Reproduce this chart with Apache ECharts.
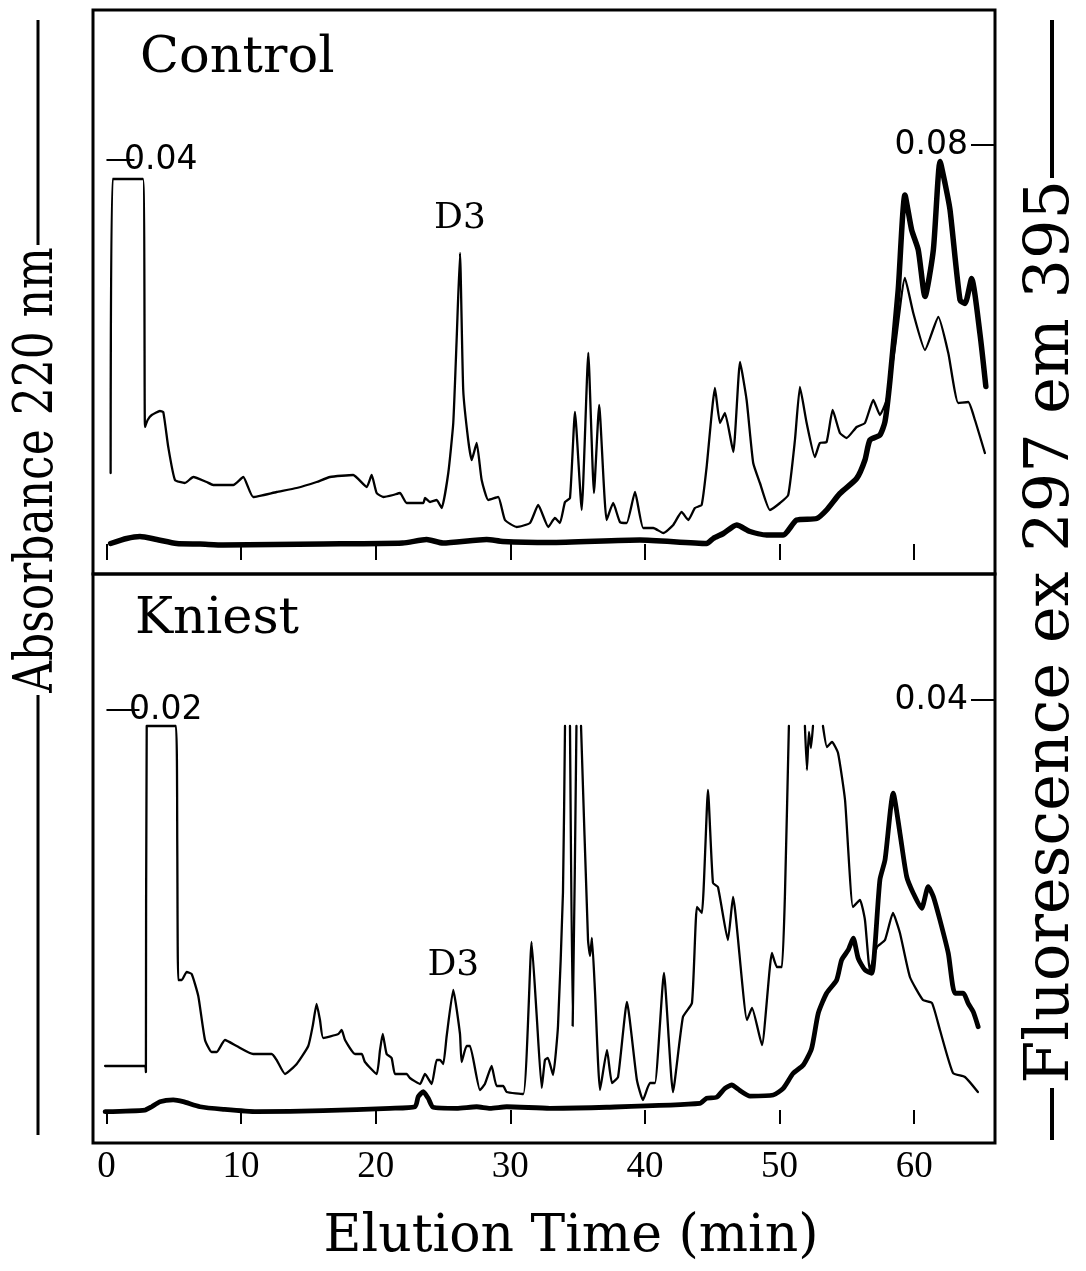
<!DOCTYPE html>
<html>
<head>
<meta charset="utf-8">
<title>Elution profiles: Control and Kniest</title>
<script src="https://cdn.jsdelivr.net/npm/echarts@6/dist/echarts.min.js"></script>
<style>
  html, body { margin: 0; padding: 0; background: #fff; }
  #chart { width: 1086px; height: 1271px; }
</style>
</head>
<body>
<div id="chart"></div>
<script>
// Elution time in minutes, detector readings in mAU.
// '-' marks stretches where the absorbance recorder went off scale.

const timeTicks = [0, 10, 20, 30, 40, 50, 60];

// Control: absorbance at 220 nm (thin trace)
const controlAbs = [
  [0.31, 8.7], [0.46, 38.1], [2.71, 38.1], [2.86, 13.3], [3.06, 14.0], [3.36, 14.5], [3.97, 14.9],
  [4.22, 14.8], [4.59, 11.3], [5.09, 8.0], [5.83, 7.7], [6.45, 8.3], [7.44, 7.8], [7.93, 7.5],
  [9.42, 7.5], [10.16, 8.3], [10.9, 6.3], [12.64, 6.8], [14.13, 7.2], [15.61, 7.8], [16.6, 8.3],
  [18.33, 8.5], [19.33, 7.3], [19.7, 8.5], [20.07, 6.7], [20.56, 6.3], [21.3, 6.5], [21.8, 6.7],
  [22.3, 5.7], [23.53, 5.7], [23.66, 6.2], [24.03, 5.8], [24.53, 6.0], [24.9, 5.2], [25.39, 8.7],
  [25.76, 13.7], [26.01, 22.0], [26.26, 30.7], [26.5, 17.0], [26.87, 12.0], [27.13, 10.0],
  [27.5, 11.7], [27.87, 8.0], [28.36, 6.0], [29.1, 6.3], [29.6, 4.0], [30.47, 3.3], [31.46, 3.7],
  [32.07, 5.5], [32.82, 3.3], [33.31, 4.2], [33.68, 3.7], [34.06, 5.8], [34.43, 6.2], [34.8, 14.8],
  [35.3, 5.0], [35.79, 20.7], [36.21, 6.7], [36.6, 15.5], [37.15, 4.0], [37.64, 5.7], [38.14, 3.8],
  [38.64, 3.7], [39.26, 6.8], [39.87, 3.2], [40.62, 3.2], [41.36, 2.7], [42.1, 3.5], [42.72, 4.8],
  [43.22, 4.0], [43.71, 5.2], [44.21, 5.5], [44.58, 9.3], [45.2, 17.2], [45.57, 13.7], [45.94, 14.7],
  [46.56, 10.8], [47.06, 19.8], [47.55, 16.0], [48.04, 9.7], [48.54, 7.7], [49.28, 5.0], [50.03, 5.7],
  [50.64, 6.5], [51.14, 12.0], [51.51, 17.3], [52.01, 13.7], [52.62, 10.3], [52.99, 11.7],
  [53.49, 11.8], [53.94, 15.0], [54.48, 12.7], [54.98, 12.2], [55.72, 13.3], [56.34, 13.7],
  [56.96, 16.0], [57.45, 14.5], [57.95, 16.0], [58.57, 21.3], [59.31, 28.2], [59.93, 24.7],
  [60.8, 21.0], [61.79, 24.3], [62.53, 20.7], [63.27, 15.7], [64.01, 15.8], [64.51, 14.0], [65.25, 10.7]
];

// Control: fluorescence ex 297 / em 395 (thick trace)
const controlFlu = [
  [0.31, 0.3], [1.5, 1.3], [2.49, 1.7], [3.73, 1.1], [5.22, 0.3], [6.95, 0.2], [8.68, 0.0],
  [16.1, 0.2], [22.0, 0.4], [23.78, 1.1], [25.0, 0.4], [28.24, 1.1], [29.45, 0.7], [32.94, 0.5],
  [39.62, 1.0], [44.58, 0.3], [45.07, 1.3], [45.82, 2.3], [46.81, 4.0], [47.8, 2.7], [49.03, 2.0],
  [50.27, 2.0], [51.27, 5.0], [52.76, 5.3], [53.49, 7.0], [54.48, 10.3], [55.72, 13.3], [56.34, 17.0],
  [56.71, 21.0], [57.45, 22.0], [57.83, 24.7], [58.2, 33.0], [58.81, 51.0], [59.31, 70.0],
  [59.81, 63.0], [60.3, 59.0], [60.8, 49.7], [61.42, 59.0], [61.92, 76.7], [62.29, 72.3],
  [62.66, 67.0], [63.4, 49.0], [63.77, 48.3], [64.26, 53.3], [64.88, 42.3], [65.32, 31.7]
];

// Kniest: absorbance at 220 nm (thin trace)
const kniestAbs = [
  [-0.1, 2.2], [2.86, 2.2], [2.93, 1.9], [2.99, 19.2], [5.16, 19.2], [5.26, 13.2], [5.33, 6.5],
  [5.59, 6.5], [5.96, 6.9], [6.33, 6.8], [6.82, 5.7], [7.32, 3.5], [7.81, 2.9], [8.19, 2.9],
  [8.8, 3.5], [9.67, 3.2], [10.9, 2.8], [12.27, 2.8], [12.64, 2.5], [13.26, 1.8], [14.13, 2.3],
  [14.99, 3.2], [15.32, 4.2], [15.61, 5.3], [15.86, 4.5], [16.1, 3.6], [17.22, 3.8], [17.47, 4.0],
  [17.72, 3.5], [18.46, 2.8], [18.96, 2.8], [19.2, 2.4], [20.07, 1.8], [20.32, 3.0], [20.52, 3.8],
  [20.81, 2.8], [21.18, 2.6], [21.43, 1.8], [21.93, 1.8], [22.3, 1.8], [22.54, 1.6], [23.29, 1.3],
  [23.66, 1.8], [24.16, 1.3], [24.53, 2.5], [24.77, 2.5], [25.02, 2.3], [25.27, 3.7], [25.76, 6.0],
  [26.26, 3.8], [26.38, 2.4], [26.75, 3.2], [27.0, 3.2], [27.74, 1.0], [28.11, 1.3], [28.61, 2.2],
  [28.98, 1.2], [29.47, 1.2], [29.73, 0.9], [30.96, 0.8], [31.58, 8.4], [31.95, 4.8], [32.33, 1.1],
  [32.57, 2.5], [32.79, 2.6], [33.17, 1.75], [33.54, 4.2], [33.91, 10.9], [34.06, 19.2], [34.2, '-'],
  [34.43, 19.2], [34.63, 4.2], [34.91, 19.2], [35.1, '-'], [35.25, 19.2], [35.77, 8.5], [35.92, 7.7],
  [36.06, 8.6], [36.29, 5.9], [36.66, 1.0], [37.18, 3.0], [37.55, 1.35], [38.0, 1.65], [38.66, 5.4],
  [39.4, 1.5], [39.85, 0.5], [40.37, 1.35], [40.74, 1.35], [41.41, 6.85], [42.08, 0.9], [42.82, 4.65],
  [43.49, 5.35], [43.86, 10.15], [44.23, 9.85], [44.68, 16.0], [45.05, 11.35], [45.42, 11.15],
  [46.16, 8.5], [46.54, 10.65], [47.58, 4.5], [47.95, 5.1], [48.69, 3.25], [49.43, 7.85], [49.8, 7.15],
  [50.17, 7.15], [50.4, 10.85], [50.69, 19.2], [51.2, '-'], [51.88, 19.2], [52.03, 17.0], [52.18, 18.9],
  [52.33, 18.1], [52.48, 19.2], [52.8, '-'], [53.22, 19.2], [53.52, 18.15], [53.89, 18.4],
  [54.34, 17.85], [54.86, 15.5], [55.45, 10.15], [55.97, 10.5], [56.34, 9.5], [56.71, 7.0],
  [57.23, 8.15], [57.83, 8.5], [58.42, 9.85], [58.94, 8.85], [59.68, 6.65], [60.65, 5.5],
  [61.32, 5.35], [61.91, 4.0], [62.88, 1.85], [63.77, 1.65], [64.73, 0.9]
];

// Kniest: fluorescence ex 297 / em 395 (thick trace)
const kniestFlu = [
  [-0.1, 0.03], [2.86, 0.19], [3.36, 0.51], [3.97, 1.0], [4.96, 1.17], [5.7, 1.0], [6.95, 0.51],
  [8.68, 0.26], [11.16, 0.03], [16.1, 0.13], [21.06, 0.36], [22.92, 0.51], [23.16, 1.49],
  [23.53, 1.97], [23.9, 1.33], [24.27, 0.46], [26.01, 0.36], [27.5, 0.51], [28.49, 0.36],
  [29.73, 0.51], [32.94, 0.36], [37.15, 0.46], [44.08, 0.84], [44.58, 1.33], [45.32, 1.43],
  [45.94, 2.3], [46.44, 2.62], [47.06, 2.07], [47.8, 1.55], [49.53, 1.65], [50.27, 2.3],
  [51.01, 3.76], [51.76, 4.56], [52.38, 6.18], [52.87, 9.58], [53.49, 11.53], [54.24, 12.82],
  [54.61, 14.76], [55.1, 15.73], [55.47, 16.87], [55.84, 14.92], [56.34, 13.79], [56.84, 13.47],
  [57.08, 16.05], [57.45, 22.53], [57.83, 24.47], [58.44, 30.95], [58.94, 27.06], [59.44, 22.85],
  [59.93, 21.24], [60.55, 19.78], [61.04, 21.88], [61.42, 20.91], [61.91, 18.64], [62.53, 15.41],
  [63.03, 11.53], [63.64, 11.53], [64.01, 10.55], [64.38, 9.74], [64.75, 8.28]
];

// Full-scale marks for each detector (mAU)
const controlAbsMark = [40];
const controlFluMark = [80];
const kniestAbsMark = [20];
const kniestFluMark = [40];

// D3 peak positions [min, mAU]
const controlD3 = [26.26, 30.7];
const kniestD3 = [25.76, 6.0];

const SERIF = '"DejaVu Serif", "Liberation Serif", serif';
const TICK_SERIF = '"Liberation Serif", "DejaVu Serif", serif';
const SANS = '"DejaVu Sans", "Liberation Sans", sans-serif';
const INK = '#000';

const toAU = v => (v / 1000).toFixed(2);

function timeAxis(gridIndex, showLabels) {
  return {
    type: 'value', gridIndex, min: -1, max: 66,
    axisLine: { show: false }, splitLine: { show: false },
    axisTick: {
      show: true, inside: !showLabels, length: showLabels ? 14 : 16,
      customValues: timeTicks, lineStyle: { color: INK, width: 2 }
    },
    axisLabel: showLabels
      ? { show: true, customValues: timeTicks, margin: 6, color: INK, fontFamily: TICK_SERIF, fontSize: 37 }
      : { show: false }
  };
}

function scaleAxis(gridIndex, position, min, max, marks, tickLen, labelMargin) {
  return {
    type: 'value', gridIndex, position, min, max,
    axisLine: { show: false }, splitLine: { show: false },
    axisTick: { show: true, inside: true, length: tickLen, customValues: marks,
      lineStyle: { color: INK, width: 2 } },
    axisLabel: { show: true, inside: true, margin: labelMargin, customValues: marks,
      formatter: toAU, color: INK, fontFamily: SANS, fontSize: 33 }
  };
}

function trace(xi, yi, data, width, smooth) {
  return {
    type: 'line', xAxisIndex: xi, yAxisIndex: yi, data,
    symbol: 'none', smooth, connectNulls: false,
    lineStyle: { color: INK, width, cap: 'round', join: 'round' },
    emphasis: { disabled: true }, silent: true
  };
}

function peakLabel(coord, distance) {
  return {
    symbol: 'circle', symbolSize: 1, itemStyle: { color: 'rgba(0,0,0,0)' },
    label: { show: true, position: 'top', distance, formatter: 'D3',
      color: INK, fontFamily: SERIF, fontSize: 36 },
    data: [{ coord }]
  };
}

const chart = echarts.init(document.getElementById('chart'), null, { renderer: 'canvas' });

const absC = trace(0, 0, controlAbs, 2.3, 0.15);
absC.markPoint = peakLabel(controlD3, 16);
const absK = trace(1, 2, kniestAbs, 2.3, 0.15);
absK.markPoint = peakLabel(kniestD3, 6);

chart.setOption({
  animation: false,
  backgroundColor: '#fff',
  grid: [
    { left: 93, right: 91, top: 10, height: 564, show: true, borderColor: INK, borderWidth: 3 },
    { left: 93, right: 91, top: 574, height: 569, show: true, borderColor: INK, borderWidth: 3 }
  ],
  xAxis: [timeAxis(0, false), timeAxis(1, true)],
  yAxis: [
    scaleAxis(0, 'left', -1.4, 55, controlAbsMark, 28, 31),
    scaleAxis(0, 'right', -5.8, 107, controlFluMark, 24, 27),
    scaleAxis(1, 'left', -1.65, 26.8, kniestAbsMark, 33, 36),
    scaleAxis(1, 'right', -3.01, 52.23, kniestFluMark, 24, 27)
  ],
  series: [
    absC,
    trace(0, 1, controlFlu, 5.5, 0.2),
    absK,
    trace(1, 3, kniestFlu, 4.8, 0.2)
  ],
  graphic: [
    { type: 'text', x: 140, y: 59, style: { text: 'Control', fill: INK, fontFamily: SERIF, fontSize: 51, verticalAlign: 'middle' } },
    { type: 'text', x: 135, y: 620, style: { text: 'Kniest', fill: INK, fontFamily: SERIF, fontSize: 51, verticalAlign: 'middle' } },
    { type: 'text', x: 571, y: 1237, style: { text: 'Elution Time (min)', fill: INK, fontFamily: SERIF, fontSize: 52, align: 'center', verticalAlign: 'middle' } },
    // left axis title with its rules
    { type: 'line', shape: { x1: 38, y1: 20, x2: 38, y2: 245 }, style: { stroke: INK, lineWidth: 3 } },
    { type: 'text', x: 38, y: 470, rotation: Math.PI / 2, scaleX: 0.8,
      style: { text: 'Absorbance 220 nm', fill: INK, fontFamily: SERIF, fontSize: 55, align: 'center', verticalAlign: 'middle' } },
    { type: 'line', shape: { x1: 38, y1: 695, x2: 38, y2: 1135 }, style: { stroke: INK, lineWidth: 3 } },
    // right axis title with its rules
    { type: 'line', shape: { x1: 1052, y1: 20, x2: 1052, y2: 178 }, style: { stroke: INK, lineWidth: 4 } },
    { type: 'text', x: 1052, y: 632, rotation: Math.PI / 2,
      style: { text: 'Fluorescence ex 297 em 395', fill: INK, fontFamily: SERIF, fontSize: 62, align: 'center', verticalAlign: 'middle' } },
    { type: 'line', shape: { x1: 1052, y1: 1088, x2: 1052, y2: 1140 }, style: { stroke: INK, lineWidth: 4 } }
  ]
});
</script>
</body>
</html>
